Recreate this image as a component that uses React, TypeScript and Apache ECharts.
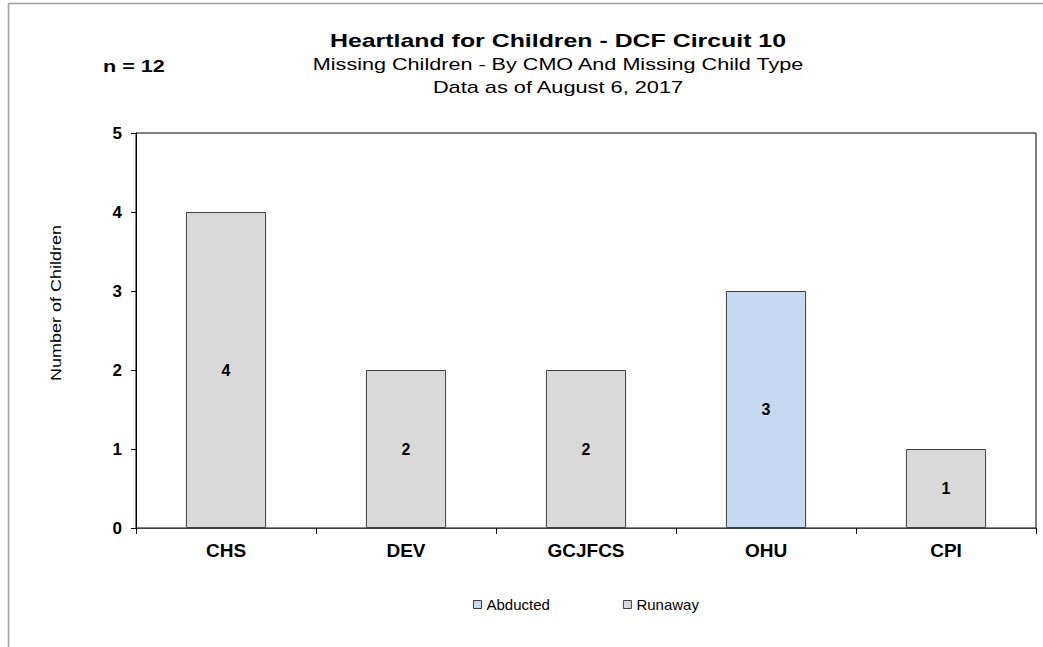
import React, { useEffect, useRef } from "react";
import * as echarts from "echarts";

const categories = ["CHS", "DEV", "GCJFCS", "OHU", "CPI"];
const abducted = [0, 0, 0, 3, 0];
const runaway = [4, 2, 2, 0, 1];
const yTicks = [0, 1, 2, 3, 4, 5];

const FONT = "'Liberation Sans', Arial, sans-serif";

export default function App() {
  const ref = useRef<HTMLDivElement>(null);
  useEffect(() => {
    const chart = echarts.init(ref.current!, null, { renderer: "svg" });
    const toData = (arr: number[]) => arr.map((v) => (v === 0 ? null : v));
    const label = {
      show: true,
      position: "inside",
      fontFamily: FONT,
      fontWeight: "bold",
      fontSize: 16,
      color: "#000",
      formatter: (p: any) => (p.value ? String(p.value) : ""),
    };
    chart.setOption({
      animation: false,
      backgroundColor: "#fff",
      textStyle: { fontFamily: FONT },
      graphic: [
        { type: "line", shape: { x1: 8.5, y1: 3.5, x2: 1043, y2: 3.5 }, style: { stroke: "#a0a0a0", lineWidth: 1.5 } },
        { type: "line", shape: { x1: 8.5, y1: 3.5, x2: 8.5, y2: 647 }, style: { stroke: "#a0a0a0", lineWidth: 1.5 } },
        {
          type: "text",
          x: 558,
          y: 41,
          scaleX: 1.31,
          style: {
            text: "Heartland for Children - DCF Circuit 10",
            font: `bold 19px ${FONT}`,
            fill: "#000",
            align: "center",
            verticalAlign: "middle",
          },
        },
        {
          type: "text",
          x: 558,
          y: 65,
          scaleX: 1.35,
          style: {
            text: "Missing Children - By CMO And Missing Child Type",
            font: `16px ${FONT}`,
            fill: "#000",
            align: "center",
            verticalAlign: "middle",
          },
        },
        {
          type: "text",
          x: 558,
          y: 88,
          scaleX: 1.36,
          style: {
            text: "Data as of August 6, 2017",
            font: `16px ${FONT}`,
            fill: "#000",
            align: "center",
            verticalAlign: "middle",
          },
        },
        {
          type: "text",
          x: 103,
          y: 66,
          scaleX: 1.27,
          style: { text: "n = 12", font: `bold 17px ${FONT}`, fill: "#000", align: "left", verticalAlign: "middle" },
        },
        {
          type: "text",
          x: 56,
          y: 303,
          rotation: Math.PI / 2,
          scaleX: 1.2,
          style: {
            text: "Number of Children",
            font: `15px ${FONT}`,
            fill: "#000",
            align: "center",
            verticalAlign: "middle",
          },
        },
      ],
      legend: {
        top: 592,
        left: 468,
        itemGap: 73,
        itemWidth: 8,
        itemHeight: 8,
        icon: "rect",
        textStyle: { fontFamily: FONT, fontSize: 15, color: "#000" },
        data: [
          { name: "Abducted", itemStyle: { color: "#c6d9f1", borderColor: "#404040", borderWidth: 1 } },
          { name: "Runaway", itemStyle: { color: "#d9d9d9", borderColor: "#404040", borderWidth: 1 } },
        ],
      },
      grid: {
        left: 136,
        top: 133,
        right: 7,
        bottom: 119,
        show: true,
        borderColor: "#000",
        borderWidth: 1,
        backgroundColor: "transparent",
      },
      xAxis: {
        type: "category",
        data: categories,
        axisLine: { lineStyle: { color: "#404040", width: 1 } },
        axisTick: { show: true, alignWithLabel: false, length: 6, lineStyle: { color: "#000" } },
        axisLabel: { fontFamily: FONT, fontWeight: "bold", fontSize: 19, color: "#000", margin: 13 },
      },
      yAxis: {
        type: "value",
        min: yTicks[0],
        max: yTicks[yTicks.length - 1],
        interval: 1,
        axisLine: { show: true, lineStyle: { color: "#000", width: 1 } },
        axisTick: { show: true, length: 5, lineStyle: { color: "#000" } },
        axisLabel: { fontFamily: FONT, fontWeight: "bold", fontSize: 17, color: "#000", margin: 14 },
        splitLine: { show: false },
      },
      series: [
        {
          name: "Abducted",
          type: "bar",
          stack: "total",
          barWidth: "44.5%",
          data: toData(abducted),
          itemStyle: { color: "#c6d9f1", borderColor: "#404040", borderWidth: 1 },
          label,
        },
        {
          name: "Runaway",
          type: "bar",
          stack: "total",
          barWidth: "44.5%",
          data: toData(runaway),
          itemStyle: { color: "#d9d9d9", borderColor: "#404040", borderWidth: 1 },
          label,
        },
      ],
    });
    return () => chart.dispose();
  }, []);
  return (
    <div
      ref={ref}
      style={{ position: "absolute", left: 0, top: 0, width: 1043, height: 647 }}
    />
  );
}
